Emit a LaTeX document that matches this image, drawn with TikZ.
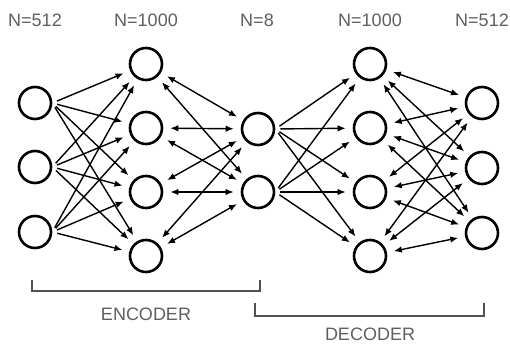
\documentclass[tikz,border=0pt]{standalone}
\usepackage{fontspec}
\setmainfont{Liberation Sans}
\usetikzlibrary{arrows.meta}
\definecolor{labelgray}{RGB}{95,95,95}
\definecolor{bracketgray}{RGB}{80,80,80}
\tikzset{
	neuron/.style={circle, draw=black, line width=2.6pt, minimum size=32pt, inner sep=0pt},
	layerlabel/.style={text=labelgray, font=\fontsize{18}{20}\selectfont},
	fwd/.style={-{Latex[length=8pt,width=6.5pt]}, line width=1.4pt, shorten <=5pt, shorten >=7pt},
	twoway/.style={{Latex[length=8pt,width=6.5pt]}-{Latex[length=8pt,width=6.5pt]}, line width=1.4pt, shorten <=7pt, shorten >=7pt},
	bracket/.style={draw=bracketgray, line width=1.5pt}
}

\begin{document}
\begin{tikzpicture}[x=1pt, y=-1pt]
	\useasboundingbox (0,0) rectangle (510,344);
	
	% Layer sizes
	\node[layerlabel] (t1) at (35,20) {N=512};
	\node[layerlabel] (t2) at (146,20) {N=1000};
	\node[layerlabel] (t3) at (257,20) {N=8};
	\node[layerlabel] (t4) at (370,20) {N=1000};
	\node[layerlabel] (t5) at (482,20) {N=512};
	
	% Input layer
	\node[neuron] (i1) at (35,103) {};
	\node[neuron] (i2) at (35,167) {};
	\node[neuron] (i3) at (35,232) {};
	
	% Encoder hidden layer
	\node[neuron] (h1) at (146,64) {};
	\node[neuron] (h2) at (146,128) {};
	\node[neuron] (h3) at (146,192) {};
	\node[neuron] (h4) at (146,256) {};
	
	% Code layer
	\node[neuron] (z1) at (258,129) {};
	\node[neuron] (z2) at (258,192) {};
	
	% Decoder hidden layer
	\node[neuron] (g1) at (370,64) {};
	\node[neuron] (g2) at (370,128) {};
	\node[neuron] (g3) at (370,192) {};
	\node[neuron] (g4) at (370,256) {};
	
	% Output layer
	\node[neuron] (o1) at (482,103) {};
	\node[neuron] (o2) at (482,168) {};
	\node[neuron] (o3) at (482,233) {};
	
	% Connections
	\foreach \a in {1,2,3}
		\foreach \b in {1,...,4}
			\draw[fwd] (i\a.east) -- (h\b);
	\foreach \a in {1,...,4}
		\foreach \b in {1,2}
			\draw[twoway] (h\a) -- (z\b);
	\foreach \a in {1,2}
		\foreach \b in {1,...,4}
			\draw[fwd] (z\a.east) -- (g\b);
	\foreach \a in {1,...,4}
		\foreach \b in {1,2,3}
			\draw[twoway] (g\a) -- (o\b);
	
	% Encoder
	\draw[bracket] (32,280) -- (32,291) -- (260,291) -- (260,280);
	\node[layerlabel] (enc) at (146,314) {ENCODER};
	
	% Decoder
	\draw[bracket] (255,303) -- (255,316) -- (484,316) -- (484,303);
	\node[layerlabel] (dec) at (370,334) {DECODER};
\end{tikzpicture}
\end{document}
